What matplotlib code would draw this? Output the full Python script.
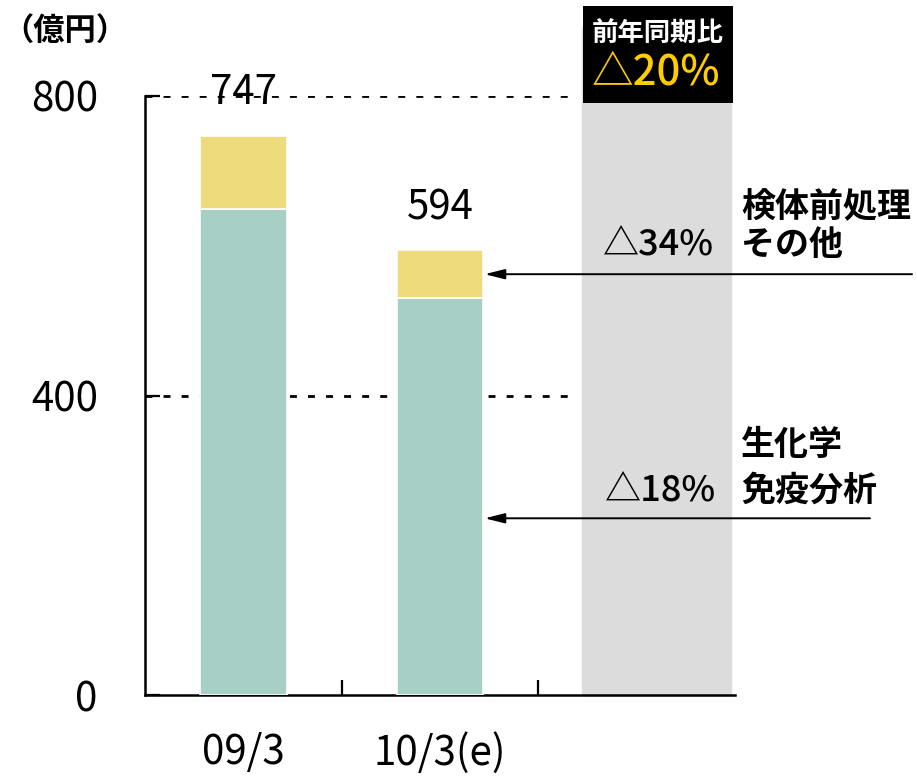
import numpy as np
import matplotlib
matplotlib.use("Agg")
import matplotlib.pyplot as plt
from matplotlib.patches import Rectangle
from matplotlib.transforms import blended_transform_factory

plt.rcParams['font.family'] = ['Noto Sans CJK JP', 'DejaVu Sans']

# データ（億円）
periods = ["09/3", "10/3(e)"]
biochem = [649, 530]      # 生化学・免疫分析
pretreat = [98, 64]       # 検体前処理・その他
totals = [747, 594]
yticks = [0, 400, 800]
yoy_total = "△20%"
yoy_pretreat = "△34%"
yoy_biochem = "△18%"

green = "#a8cfc6"
yellow = "#eddb7c"
band = "#dcdcdc"

fig = plt.figure(figsize=(9.17, 7.76), dpi=100)
ax = fig.add_axes([145/917, 1-695/776, 590/917, 599/776])

x = np.arange(len(periods))
w = 0.44
ax.bar(x, biochem, w, color=green, edgecolor="white", linewidth=1.2, zorder=3)
ax.bar(x, pretreat, w, bottom=biochem, color=yellow, edgecolor="white", linewidth=1.2, zorder=3)

for xi, t in zip(x, totals):
    ax.annotate(str(t), (xi, t), xytext=(0, 16), textcoords="offset points",
                ha="center", va="bottom", fontsize=29)

# 前年同期比の帯
band_l, band_r = 1.722, 2.48
ax.axvspan(band_l, band_r, ymin=0, ymax=1.115, color=band, zorder=1, clip_on=False)

# 点線
ax.hlines([400, 800], -0.5, band_l - 0.02, colors="black", linestyles=(0, (2.5, 4)),
          linewidth=2, zorder=2)

ax.set_xlim(-0.5, 2.5)
ax.set_ylim(0, 800)
ax.set_xticks(x)
ax.set_xticklabels(periods, fontsize=29)
ax.set_xticks([0.5, 1.5], minor=True)
ax.tick_params(axis="x", which="major", length=0, pad=27)
ax.tick_params(axis="x", which="minor", direction="in", length=11, width=1.6)
ax.set_yticks(yticks)
ax.set_yticklabels([str(v) for v in yticks], fontsize=29)
ax.tick_params(axis="y", direction="in", length=11, width=1.6, pad=34)
for s in ["top", "right"]:
    ax.spines[s].set_visible(False)
for s in ["left", "bottom"]:
    ax.spines[s].set_linewidth(1.8)

fig.text(2/917, 1-32/776, "（億円）", fontsize=22.5, fontweight="bold",
         va="center", ha="left")

# 黒い枠
fig.patches.append(Rectangle((583/917, 1-103/776), 150/917, 97/776, transform=fig.transFigure,
                             facecolor="black", edgecolor="none", zorder=5))
fig.text(658/917, 1-33/776, "前年同期比", fontsize=19, fontweight="bold", color="white",
         ha="center", va="center", zorder=6)
fig.text(656/917, 1-72/776, yoy_total, fontsize=30, fontweight="medium", color="#ffcc00",
         ha="center", va="center", zorder=6)

# 矢印と注記
tr = blended_transform_factory(fig.transFigure, ax.transData)
mid_y = biochem[1] + pretreat[1] / 2
low_y = 236
for yy, x0 in [(mid_y, 912), (low_y, 870)]:
    ax.annotate("", xy=(x[1] + w/2, yy), xycoords="data",
                xytext=(x0/917, yy), textcoords=tr,
                arrowprops=dict(arrowstyle="-|>,head_length=1.2,head_width=0.3", color="black",
                                lw=1.4, shrinkA=0, shrinkB=1), zorder=6)

fig.text(714/917, 1-245/776, yoy_pretreat, fontsize=26, fontweight="medium",
         ha="right", va="center")
fig.text(716/917, 1-492/776, yoy_biochem, fontsize=26, fontweight="medium",
         ha="right", va="center")
for label, yp in [("検体前処理", 207), ("その他", 245), ("生化学", 444), ("免疫分析", 490)]:
    fig.text(741/917, 1-yp/776, label, fontsize=24.5, fontweight="bold",
             ha="left", va="center")

fig.savefig("out.png", dpi=100)
